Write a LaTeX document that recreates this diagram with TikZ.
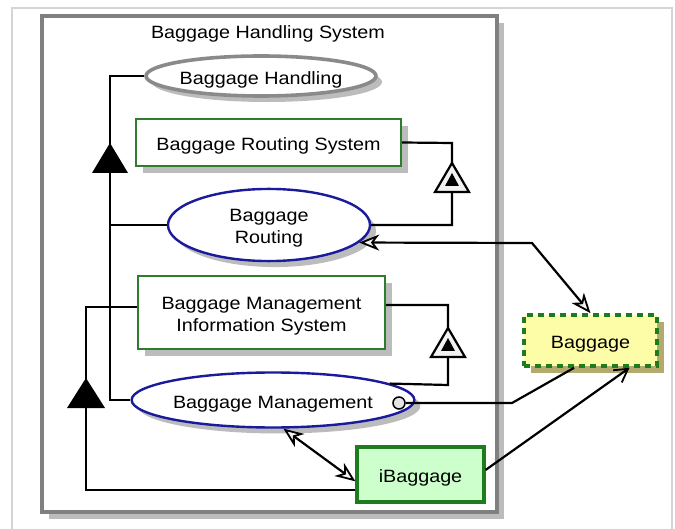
\documentclass[tikz,border=0pt]{standalone}
\usepackage{fontspec}
\setmainfont[FakeStretch=1.11]{Liberation Sans}
\usetikzlibrary{shapes.geometric,arrows.meta,shadows,calc}

\definecolor{framegray}{HTML}{D4D4D4}
\definecolor{sysgray}{HTML}{808080}
\definecolor{shadowgray}{HTML}{BCBCBC}
\definecolor{boxgreen}{HTML}{2D7D2D}
\definecolor{darkgreen}{HTML}{1E7B1E}
\definecolor{ucblue}{HTML}{1A1A9C}
\definecolor{ucgray}{HTML}{8A8A8A}
\definecolor{paleyellow}{HTML}{FDFDA8}
\definecolor{olive}{HTML}{B4AA6E}
\definecolor{palegreen}{HTML}{CCFFCC}

% two-line label, set a little below the middle of its shape
\newcommand{\twolines}[2]{\raisebox{0pt}[\dimexpr\height+7pt\relax]{\begin{tabular}{@{}c@{}}#1\\#2\end{tabular}}}

\begin{document}
\begin{tikzpicture}[x=1pt,y=1pt,
  font=\fontsize{17.8}{22}\selectfont,
  labelled/.style={execute at begin node={\rule{0pt}{20pt}}},
  shade7/.style={drop shadow={shadow xshift=7pt,shadow yshift=-7pt,fill=shadowgray,opacity=1}},
  usecase/.style={ellipse,draw=ucblue,line width=2.4pt,fill=white,inner sep=0pt,
    drop shadow={shadow xshift=6pt,shadow yshift=-6pt,fill=shadowgray,opacity=1}},
  classbox/.style={rectangle,draw=boxgreen,line width=2.4pt,fill=white,inner sep=0pt,shade7},
  conn/.style={line width=2.2pt,draw=black},
  assoctip/.tip={Stealth[length=20pt,width=16pt,inset=6pt,fill=gray!10,line width=1.8pt]},
  assoc/.style={conn,assoctip-assoctip},
  navarrow/.style={conn,-{Straight Barb[length=13pt,width=15pt,line width=1.8pt]}},
  gentri/.style={fill=black},
  realtri/.style={draw=black,line width=2.2pt,fill=gray!10},
]
\useasboundingbox (0,0) rectangle (675,-529);

% page frame
\draw[framegray,line width=2pt] (12,-8) rectangle (672,-545);

% system boundary with its shadow
\fill[shadowgray] (49,-23) rectangle (504,-519);
\draw[sysgray,line width=3.2pt,fill=white] (42,-16) rectangle (497,-512);
\node[anchor=base] (title) at (268,-38.5) {Baggage Handling System};

% use cases and classes
\node[usecase,labelled,draw=ucgray,line width=3.6pt,minimum width=206pt,minimum height=40pt]
  (handling) at (261,-76) {Baggage Handling};
\node[classbox,labelled,minimum width=265pt,minimum height=47pt]
  (routingsys) at (268.5,-142.5) {Baggage Routing System};
\node[usecase,minimum width=202pt,minimum height=64pt]
  (routing) at (269,-225) {\twolines{Baggage}{Routing}};
\node[classbox,minimum width=247pt,minimum height=73pt]
  (bmis) at (261.5,-312.5) {\twolines{Baggage Management}{Information System}};
\node[usecase,labelled,minimum width=234pt,minimum height=55pt]
  (mgmt) at (273,-400) {Baggage Management};
\node[rectangle,draw=darkgreen,line width=3.2pt,fill=palegreen,labelled,minimum width=127pt,minimum height=55pt]
  (ibag) at (420.5,-474.5) {iBaggage};
\node[rectangle,draw=darkgreen,line width=3.6pt,dash pattern=on 6pt off 5pt,fill=paleyellow,labelled,
  minimum width=133pt,minimum height=51pt,
  drop shadow={shadow xshift=7pt,shadow yshift=-7pt,fill=olive,opacity=1}]
  (bag) at (590.5,-340.5) {Baggage};

% provided interface port
\node[circle,draw=black,line width=1.5pt,fill=gray!20,minimum size=12pt,inner sep=0pt]
  (port) at (399,-403) {};

% bend points and triangle apexes
\coordinate (j1) at (110,-76);
\coordinate (tri1) at (110,-143);
\coordinate (j2) at (86,-307);
\coordinate (j2b) at (86,-490);
\coordinate (tri3) at (86,-378);
\coordinate (r1) at (452,-143);
\coordinate (tri2) at (452,-163);
\coordinate (r1b) at (452,-225);
\coordinate (r2) at (448,-305);
\coordinate (tri4) at (448,-328);
\coordinate (r2b) at (448,-385);
\coordinate (a1) at (532,-243);
\coordinate (p1) at (512,-403);

% generalization: Baggage Handling
\draw[conn] (handling.west) -- (j1) -- (j1 |- mgmt.west) -- (mgmt.west);
\draw[conn] (j1 |- routing.west) -- (routing.west);
\fill[gentri] (tri1) -- ++(-18,-30) -- ++(36,0) -- cycle;

% generalization: Baggage Management Information System
\draw[conn] (j2 -| bmis.west) -- (j2) -- (j2b) -- (j2b -| ibag.west);
\fill[gentri] (tri3) -- ++(-19,-30) -- ++(38,0) -- cycle;

% realization: Baggage Routing System
\draw[conn] (routingsys.east) -- (r1) -- (r1b) -- (routing.east);
\draw[realtri] (tri2) -- ++(-17,-29) -- ++(34,0) -- cycle;
\fill (tri2) ++(0,-10) -- ++(-7,-13) -- ++(14,0) -- cycle;

% realization: Baggage Management Information System
\draw[conn] (r2 -| bmis.east) -- (r2) -- (r2b) -- (mgmt.8.7);
\draw[realtri] (tri4) -- ++(-17,-29) -- ++(34,0) -- cycle;
\fill (tri4) ++(0,-10) -- ++(-7,-13) -- ++(14,0) -- cycle;

% associations
\draw[assoc] (routing.-11) -- (a1) -- (bag.north);
\draw[assoc] (mgmt.-70) -- (ibag.186);
\draw[conn] (port.east) -- (p1) -- (bag.-121);
\draw[navarrow] (ibag.4) -- (bag.-35);
\end{tikzpicture}
\end{document}
